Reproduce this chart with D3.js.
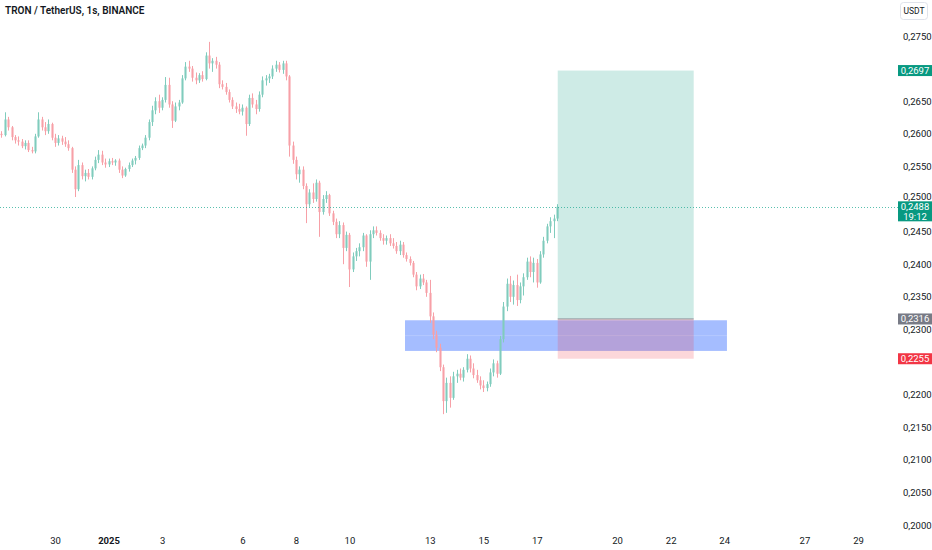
<!DOCTYPE html>
<html>
<head>
<meta charset="utf-8">
<script src="https://cdn.jsdelivr.net/npm/d3@7"></script>
<style>
  html, body { margin: 0; padding: 0; background: #fff; }
  svg { display: block; font-family: Roboto, "Noto Sans", sans-serif; }
</style>
</head>
<body>
<svg id="chart" width="932" height="550"></svg>
<script>
const title = "TRON / TetherUS, 1s, BINANCE";

// bars start 28 Dec 2024 00:00 UTC, one every 3 hours
const barStart = Date.UTC(2024, 11, 28, 0);
const barHours = 3;

// [open, high, low, close]
const ohlc = [
  [.2600,.2604,.2594,.2598],[.2598,.2633,.2596,.2622],[.2622,.2626,.2605,.2610],[.2610,.2612,.2590,.2595],
  [.2595,.2598,.2585,.2590],[.2590,.2596,.2582,.2588],[.2588,.2592,.2578,.2581],[.2581,.2590,.2576,.2586],
  [.2586,.2590,.2572,.2575],[.2575,.2580,.2570,.2573],[.2573,.2600,.2570,.2596],[.2596,.2633,.2594,.2622],
  [.2622,.2626,.2605,.2610],[.2610,.2618,.2598,.2604],[.2604,.2622,.2600,.2615],[.2615,.2617,.2590,.2594],
  [.2594,.2600,.2580,.2586],[.2586,.2598,.2582,.2593],[.2593,.2597,.2583,.2588],[.2588,.2595,.2580,.2584],
  [.2584,.2590,.2574,.2578],[.2578,.2580,.2540,.2545],[.2545,.2550,.2503,.2515],[.2515,.2560,.2512,.2552],
  [.2552,.2556,.2530,.2535],[.2535,.2545,.2527,.2540],[.2540,.2546,.2530,.2534],[.2534,.2550,.2530,.2547],
  [.2547,.2565,.2544,.2560],[.2560,.2575,.2555,.2568],[.2568,.2574,.2552,.2556],[.2556,.2562,.2548,.2553],
  [.2553,.2562,.2549,.2558],[.2558,.2563,.2552,.2556],[.2556,.2561,.2551,.2559],[.2559,.2562,.2540,.2545],
  [.2545,.2550,.2532,.2536],[.2536,.2548,.2534,.2546],[.2546,.2556,.2542,.2552],[.2552,.2562,.2549,.2559],
  [.2559,.2566,.2553,.2563],[.2563,.2582,.2560,.2578],[.2578,.2585,.2575,.2582],[.2582,.2598,.2578,.2594],
  [.2594,.2622,.2590,.2618],[.2618,.2643,.2612,.2636],[.2636,.2656,.2630,.2650],[.2650,.2660,.2632,.2640],
  [.2640,.2656,.2636,.2652],[.2652,.2687,.2648,.2675],[.2675,.2686,.2640,.2645],[.2645,.2650,.2609,.2620],
  [.2620,.2648,.2618,.2642],[.2642,.2652,.2636,.2648],[.2648,.2690,.2646,.2685],[.2685,.2710,.2682,.2703],
  [.2703,.2712,.2695,.2700],[.2700,.2704,.2680,.2686],[.2686,.2694,.2676,.2682],[.2682,.2693,.2678,.2690],
  [.2690,.2696,.2680,.2684],[.2684,.2725,.2682,.2720],[.2720,.2741,.2700,.2708],[.2708,.2716,.2695,.2712],
  [.2712,.2718,.2700,.2706],[.2706,.2710,.2670,.2676],[.2676,.2682,.2668,.2672],[.2672,.2678,.2660,.2664],
  [.2664,.2668,.2648,.2652],[.2652,.2656,.2638,.2642],[.2642,.2648,.2632,.2638],[.2638,.2646,.2630,.2634],
  [.2634,.2645,.2628,.2640],[.2640,.2642,.2597,.2615],[.2615,.2660,.2612,.2655],[.2655,.2662,.2640,.2645],
  [.2645,.2652,.2630,.2638],[.2638,.2665,.2634,.2660],[.2660,.2688,.2656,.2682],[.2682,.2690,.2674,.2685],
  [.2685,.2692,.2678,.2688],[.2688,.2705,.2684,.2700],[.2700,.2712,.2695,.2706],[.2706,.2710,.2694,.2698],
  [.2698,.2712,.2692,.2708],[.2708,.2712,.2682,.2688],[.2688,.2690,.2565,.2582],[.2582,.2588,.2554,.2560],
  [.2560,.2565,.2530,.2538],[.2538,.2550,.2525,.2545],[.2545,.2550,.2515,.2520],[.2520,.2524,.2463,.2492],
  [.2492,.2515,.2488,.2510],[.2510,.2524,.2494,.2500],[.2500,.2530,.2496,.2525],[.2525,.2528,.2442,.2480],
  [.2480,.2506,.2476,.2500],[.2500,.2512,.2494,.2506],[.2506,.2508,.2474,.2478],[.2478,.2482,.2460,.2465],
  [.2465,.2470,.2440,.2446],[.2446,.2466,.2440,.2460],[.2460,.2464,.2400,.2425],[.2425,.2450,.2420,.2445],
  [.2445,.2448,.2365,.2392],[.2392,.2418,.2388,.2412],[.2412,.2425,.2405,.2420],[.2420,.2432,.2412,.2426],
  [.2426,.2448,.2420,.2444],[.2444,.2446,.2396,.2404],[.2404,.2452,.2376,.2446],[.2446,.2458,.2440,.2452],
  [.2452,.2458,.2444,.2448],[.2448,.2452,.2436,.2440],[.2440,.2446,.2430,.2436],[.2436,.2444,.2430,.2440],
  [.2440,.2446,.2428,.2432],[.2432,.2440,.2424,.2428],[.2428,.2434,.2416,.2420],[.2420,.2436,.2414,.2430],
  [.2430,.2434,.2410,.2414],[.2414,.2418,.2404,.2408],[.2408,.2412,.2398,.2402],[.2402,.2405,.2380,.2384],
  [.2384,.2388,.2360,.2366],[.2366,.2384,.2362,.2378],[.2378,.2385,.2368,.2372],[.2372,.2376,.2350,.2356],
  [.2356,.2376,.2310,.2320],[.2320,.2326,.2285,.2292],[.2292,.2298,.2265,.2272],[.2272,.2278,.2236,.2242],
  [.2242,.2246,.2170,.2190],[.2190,.2226,.2172,.2218],[.2218,.2228,.2180,.2195],[.2195,.2235,.2192,.2228],
  [.2228,.2238,.2218,.2232],[.2232,.2240,.2222,.2226],[.2226,.2242,.2220,.2238],[.2238,.2262,.2234,.2255],
  [.2255,.2260,.2234,.2240],[.2240,.2248,.2225,.2230],[.2230,.2238,.2218,.2222],[.2222,.2228,.2208,.2214],
  [.2214,.2222,.2204,.2210],[.2210,.2220,.2205,.2216],[.2216,.2240,.2212,.2234],[.2234,.2254,.2228,.2248],
  [.2248,.2252,.2226,.2232],[.2232,.2290,.2230,.2285],[.2285,.2342,.2280,.2335],[.2335,.2378,.2328,.2370],
  [.2370,.2382,.2342,.2350],[.2350,.2375,.2338,.2368],[.2368,.2384,.2336,.2345],[.2345,.2372,.2340,.2366],
  [.2366,.2386,.2352,.2380],[.2380,.2410,.2376,.2404],[.2404,.2412,.2380,.2388],[.2388,.2410,.2372,.2402],
  [.2402,.2408,.2364,.2372],[.2372,.2420,.2370,.2415],[.2415,.2442,.2410,.2436],[.2436,.2462,.2432,.2458],
  [.2458,.2472,.2448,.2466],[.2466,.2476,.2440,.2470],[.2470,.2492,.2466,.2488]
];

const priceTicks = [0.2000, 0.2050, 0.2100, 0.2150, 0.2200, 0.2250, 0.2300, 0.2350,
                    0.2400, 0.2450, 0.2500, 0.2550, 0.2600, 0.2650, 0.2700, 0.2750];
const dayTicks = ["2024-12-30", "2025-01-01", "2025-01-03", "2025-01-06", "2025-01-08",
                  "2025-01-10", "2025-01-13", "2025-01-15", "2025-01-17", "2025-01-20",
                  "2025-01-22", "2025-01-24", "2025-01-27", "2025-01-29"];
const dayLabels = ["30", "2025", "3", "6", "8", "10", "13", "15", "17", "20", "22", "24", "27", "29"];

const lastPrice = 0.2488;
const countdown = "19:12";
const targetPrice = 0.2697;
const entryPrice = 0.2316;
const stopPrice = 0.2255;
const positionTimes = ["2025-01-17T18:45Z", "2025-01-22T20:40Z"];
const zoneTimes = ["2025-01-12T01:50Z", "2025-01-24T02:30Z"];
const zonePrices = [0.2314, 0.2267];

const W = 932, H = 550, paneRight = 898;
const upColor = "#80ccbd", downColor = "#f7a0a7";
const fmt = v => d3.format(".4f")(v).replace(".", ",");

const svg = d3.select("#chart");

const x = d3.scaleUtc()
  .domain([new Date(Date.UTC(2024, 11, 30)), new Date(Date.UTC(2025, 0, 29))])
  .range([55, 858]);
const y = d3.scaleLinear()
  .domain([0.2000, 0.2750])
  .range([525, 36]);

const bars = ohlc.map((d, i) => ({
  t: new Date(barStart + i * barHours * 3600e3),
  o: d[0], h: d[1], l: d[2], c: d[3]
}));
const step = x(new Date(barStart + barHours * 3600e3)) - x(new Date(barStart));
const bodyW = Math.max(1, step * 0.62);

// blue zone
const zx0 = x(new Date(zoneTimes[0])), zx1 = x(new Date(zoneTimes[1]));
svg.append("rect")
  .attr("x", zx0).attr("y", y(zonePrices[0]))
  .attr("width", zx1 - zx0)
  .attr("height", y(zonePrices[1]) - y(zonePrices[0]))
  .attr("fill", "rgba(41,98,255,0.42)");
svg.append("line")
  .attr("x1", zx0).attr("x2", zx1)
  .attr("y1", y((zonePrices[0] + zonePrices[1]) / 2)).attr("y2", y((zonePrices[0] + zonePrices[1]) / 2))
  .attr("stroke", "rgba(255,255,255,0.18)");

// candles
const g = svg.append("g");
g.selectAll("line.wick").data(bars).join("line")
  .attr("class", "wick")
  .attr("x1", d => Math.round(x(d.t)) + 0.5).attr("x2", d => Math.round(x(d.t)) + 0.5)
  .attr("y1", d => y(d.h)).attr("y2", d => y(d.l))
  .attr("stroke", d => d.c >= d.o ? upColor : downColor)
  .attr("stroke-width", 1);
g.selectAll("rect.body").data(bars).join("rect")
  .attr("class", "body")
  .attr("x", d => Math.round(x(d.t)) + 0.5 - bodyW / 2)
  .attr("y", d => y(Math.max(d.o, d.c)))
  .attr("width", bodyW)
  .attr("height", d => Math.max(1, Math.abs(y(d.o) - y(d.c))))
  .attr("fill", d => d.c >= d.o ? upColor : downColor);

// long position (drawn over zone)
const px0 = x(new Date(positionTimes[0])), px1 = x(new Date(positionTimes[1]));
svg.append("rect")
  .attr("x", px0).attr("y", y(targetPrice))
  .attr("width", px1 - px0).attr("height", y(entryPrice) - y(targetPrice))
  .attr("fill", "rgba(8,153,129,0.2)");
svg.append("rect")
  .attr("x", px0).attr("y", y(entryPrice))
  .attr("width", px1 - px0).attr("height", y(stopPrice) - y(entryPrice))
  .attr("fill", "rgba(242,54,69,0.2)");
svg.append("line")
  .attr("x1", px0).attr("x2", px1)
  .attr("y1", y(entryPrice)).attr("y2", y(entryPrice))
  .attr("stroke", "#8a8d96").attr("stroke-width", 1);

// last price dotted line
svg.append("line")
  .attr("x1", 0).attr("x2", paneRight)
  .attr("y1", Math.round(y(lastPrice)) + 0.5).attr("y2", Math.round(y(lastPrice)) + 0.5)
  .attr("stroke", "#22ab94").attr("stroke-width", 1)
  .attr("stroke-dasharray", "1,2").attr("opacity", 0.75);

// price tags on the scale
const tags = [
  { price: targetPrice, color: "#089981", lines: [fmt(targetPrice)] },
  { price: lastPrice, color: "#089981", lines: [fmt(lastPrice), countdown] },
  { price: entryPrice, color: "#787b86", lines: [fmt(entryPrice)] },
  { price: stopPrice, color: "#f23645", lines: [fmt(stopPrice)] }
];
tags.forEach(t => {
  t.top = y(t.price) - 5.5;
  t.bottom = t.top + (t.lines.length > 1 ? 20 : 11);
});

// axes
const yAxis = svg.append("g")
  .attr("transform", `translate(${paneRight},0)`)
  .call(d3.axisRight(y).tickValues(priceTicks).tickFormat(fmt).tickSize(0).tickPadding(5));
yAxis.select(".domain").remove();
yAxis.selectAll("text").attr("font-size", 9.5).attr("fill", "#131722")
  .attr("font-family", "Roboto, 'Noto Sans', sans-serif");
// hide or nudge scale labels that sit under a tag, like the platform does
yAxis.selectAll(".tick").each(function (d) {
  const ty = y(d);
  for (const t of tags) {
    if (ty >= t.top && ty <= t.bottom) { d3.select(this).remove(); return; }
    if (ty < t.top && ty + 5 > t.top) { d3.select(this).select("text").attr("y", t.top - 5 - ty); }
    if (ty > t.bottom && ty - 5 < t.bottom) { d3.select(this).select("text").attr("y", t.bottom + 5 - ty); }
  }
});

const xAxis = svg.append("g")
  .attr("transform", "translate(0,532)")
  .call(d3.axisBottom(x).tickValues(dayTicks.map(s => new Date(s + "T00:00Z")))
    .tickFormat((d, i) => dayLabels[i]).tickSize(0).tickPadding(5));
xAxis.select(".domain").remove();
xAxis.selectAll("text").attr("font-size", 9.5).attr("fill", "#131722")
  .attr("font-family", "Roboto, 'Noto Sans', sans-serif")
  .attr("font-weight", (d, i) => dayLabels[i] === "2025" ? 700 : 400);

tags.forEach(t => {
  svg.append("rect").attr("x", paneRight).attr("y", t.top)
    .attr("width", W - paneRight).attr("height", t.bottom - t.top).attr("fill", t.color);
  t.lines.forEach((s, i) => {
    svg.append("text").attr("x", 915).attr("y", t.top + 5.5 + i * 9.5)
      .attr("dy", "0.35em").attr("text-anchor", "middle")
      .attr("font-size", 9.5).attr("fill", "#fff").text(s);
  });
});

// title
svg.append("text").attr("x", 5).attr("y", 10).attr("dy", "0.35em")
  .attr("font-size", 10).attr("font-weight", 600).attr("fill", "#131722").text(title);

// currency button
svg.append("rect").attr("x", 900.5).attr("y", 2.5).attr("width", 27).attr("height", 17).attr("rx", 3)
  .attr("fill", "#fff").attr("stroke", "#e0e3eb");
svg.append("text").attr("x", 914).attr("y", 11).attr("dy", "0.35em").attr("text-anchor", "middle")
  .attr("font-size", 8.5).attr("fill", "#131722").text("USDT");
</script>
</body>
</html>
